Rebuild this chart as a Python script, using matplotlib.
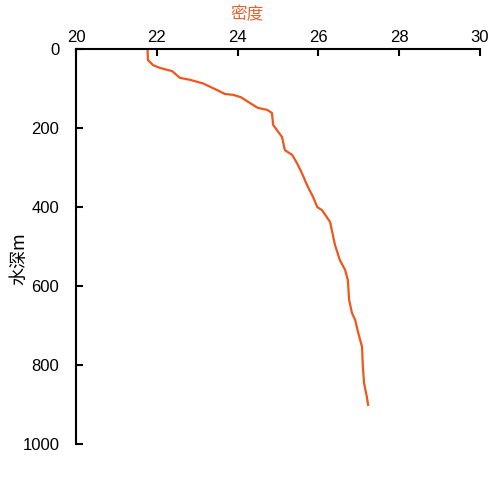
import matplotlib
matplotlib.use("Agg")
import matplotlib.pyplot as plt

density = [21.77, 21.78, 21.83, 21.91, 22.08, 22.38, 22.57, 22.82, 23.14, 23.39,
           23.69, 23.89, 24.08, 24.31, 24.50, 24.73, 24.85, 24.88, 25.10, 25.17,
           25.35, 25.47, 25.59, 25.74, 25.87, 25.97, 26.09, 26.29, 26.41, 26.53,
           26.66, 26.73, 26.76, 26.83, 26.91, 26.98, 27.08, 27.10, 27.13, 27.20, 27.23]
depth = [0, 28, 33, 41, 48, 56, 73, 78, 87, 99,
         114, 116, 122, 137, 149, 154, 162, 192, 223, 256,
         268, 289, 314, 349, 375, 400, 408, 438, 496, 534,
         559, 585, 635, 668, 686, 716, 754, 803, 846, 881, 901]

x_ticks = [20, 22, 24, 26, 28, 30]
y_ticks = [0, 200, 400, 600, 800, 1000]

plt.rcParams['font.family'] = ['Liberation Sans', 'Noto Sans CJK SC', 'DejaVu Sans']

fig = plt.figure(figsize=(5, 5), dpi=100)
ax = fig.add_axes([0.152, 0.112, 0.808, 0.79])
ax.plot(density, depth, color='#EE561A', lw=1.6)
ax.set_xlim(20, 30)
ax.set_ylim(1000, 0)
ax.set_xticks(x_ticks)
ax.set_yticks(y_ticks)
ax.xaxis.tick_top()
ax.spines['right'].set_visible(False)
ax.spines['bottom'].set_visible(False)
for s in ('top', 'left'):
    ax.spines[s].set_linewidth(1.5)
ax.tick_params(axis='x', direction='in', length=5, width=1.5, pad=3, labelsize=12)
ax.tick_params(axis='y', direction='in', length=5, width=1.5, pad=12, labelsize=12)
ax.xaxis.set_label_position('top')
ax.set_xlabel('密度', color='#E2642E', fontsize=12,
              family=['Noto Sans CJK SC', 'DejaVu Sans'])
ax.xaxis.set_label_coords(0.423, 1.075)
ax.set_ylabel('水深m', fontsize=13, family=['Noto Sans CJK SC', 'DejaVu Sans'])
ax.yaxis.set_label_coords(-0.118, 0.47)
fig.savefig('out.png', dpi=100)
